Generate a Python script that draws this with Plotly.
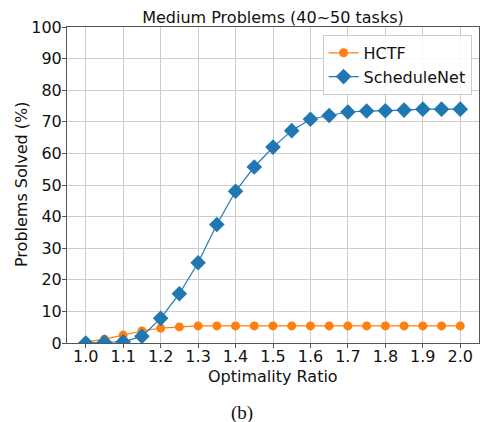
import plotly.graph_objects as go

ratios = [1.0, 1.05, 1.1, 1.15, 1.2, 1.25, 1.3, 1.35, 1.4, 1.45, 1.5,
          1.55, 1.6, 1.65, 1.7, 1.75, 1.8, 1.85, 1.9, 1.95, 2.0]
hctf = [0.3, 1.2, 2.5, 3.8, 4.7, 5.1, 5.4, 5.4, 5.4, 5.4, 5.4,
        5.4, 5.4, 5.4, 5.4, 5.4, 5.4, 5.4, 5.4, 5.4, 5.4]
schedulenet = [0.0, 0.2, 0.4, 2.1, 7.8, 15.6, 25.4, 37.5, 48.0, 55.7, 62.0,
               67.2, 70.8, 72.0, 73.1, 73.4, 73.5, 73.7, 74.0, 74.0, 74.0]
x_ticks = [1.0, 1.1, 1.2, 1.3, 1.4, 1.5, 1.6, 1.7, 1.8, 1.9, 2.0]
y_ticks = [0, 10, 20, 30, 40, 50, 60, 70, 80, 90, 100]

font_family = "DejaVu Sans"
W, H = 482, 422
L, R, T, B = 67, 3, 27, 79
PW, PH = W - L - R, H - T - B

fig = go.Figure()
fig.add_trace(go.Scatter(
    x=ratios, y=hctf, name="HCTF", mode="lines+markers",
    line=dict(color="#ff7f0e", width=1.2),
    marker=dict(symbol="circle", size=9, color="#ff7f0e"),
))
fig.add_trace(go.Scatter(
    x=ratios, y=schedulenet, name="ScheduleNet", mode="lines+markers",
    line=dict(color="#1f77b4", width=1.2),
    marker=dict(symbol="diamond", size=12, color="#1f77b4"),
))

axis_common = dict(
    showgrid=True, gridcolor="#cccccc", gridwidth=1,
    showline=True, linecolor="#555555", linewidth=1, mirror=True,
    ticks="outside", ticklen=4, tickcolor="#555555",
    tickfont=dict(family=font_family, size=16, color="#111111"),
    zeroline=False, automargin=False,
)

fig.update_layout(
    width=W, height=H,
    margin=dict(l=L, r=R, t=T, b=B, autoexpand=False),
    paper_bgcolor="white", plot_bgcolor="white",
    font=dict(family=font_family, size=16, color="#111111"),
    title=dict(text="Medium Problems (40~50 tasks)", x=0.5, xref="paper",
               xanchor="center", y=1 - 17 / H, yref="container",
               yanchor="middle", automargin=False,
               font=dict(family=font_family, size=16, color="#111111")),
    xaxis=dict(range=[0.95, 2.05], tickvals=x_ticks,
               ticktext=[f"{v:.1f}" for v in x_ticks],
               ticklabelstandoff=-5, **axis_common),
    yaxis=dict(range=[0, 100], tickvals=y_ticks,
               ticklabelstandoff=-3, **axis_common),
    legend=dict(x=0.982, y=0.975, xanchor="right", yanchor="top",
                bgcolor="rgba(255,255,255,0.85)", bordercolor="#cccccc",
                borderwidth=1, font=dict(family=font_family, size=16),
                tracegroupgap=0),
    showlegend=True,
)

# axis titles
fig.add_annotation(text="Optimality Ratio", xref="paper", yref="paper",
                   x=0.5, y=(H - B - 376) / PH, showarrow=False,
                   xanchor="center", yanchor="middle",
                   font=dict(family=font_family, size=16, color="#111111"))
fig.add_annotation(text="Problems Solved (%)", xref="paper", yref="paper",
                   x=(21 - L) / PW, y=0.5, showarrow=False, textangle=-90,
                   xanchor="center", yanchor="middle",
                   font=dict(family=font_family, size=16, color="#111111"))
fig.add_annotation(text="(b)", xref="paper", yref="paper",
                   x=(242 - L) / PW, y=(H - B - 413) / PH, showarrow=False,
                   xanchor="center", yanchor="middle",
                   font=dict(family="Liberation Serif", size=19, color="#111111"))

fig.write_html("out.html", config={"displayModeBar": False},
               post_script="document.body.style.margin='0px';")
